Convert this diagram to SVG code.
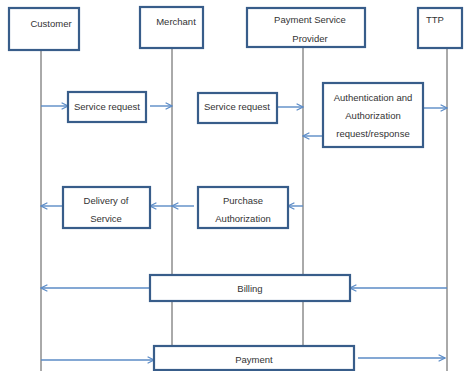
<svg xmlns="http://www.w3.org/2000/svg" width="465" height="371" viewBox="0 0 465 371">
<defs>
<marker id="ah" viewBox="0 0 10 10" refX="9" refY="5" markerWidth="8" markerHeight="8" markerUnits="userSpaceOnUse" orient="auto">
<path d="M1,1 L9,5 L1,9" fill="none" stroke="#5b8bc6" stroke-width="1.5"/>
</marker>
<style>
.box{fill:#fff;stroke:#385d8a;stroke-width:2.2}
.life{stroke:#555;stroke-width:1;fill:none}
.arr{stroke:#5b8bc6;stroke-width:1.4;fill:none;marker-end:url(#ah)}
text{font-family:"Liberation Sans",Arial,sans-serif;font-size:9.5px;fill:#333;text-anchor:middle}
</style>
</defs>
<g id="lifelines">
<line class="life" x1="41" y1="50" x2="41" y2="371"/>
<line class="life" x1="172" y1="48" x2="172" y2="346"/>
<line class="life" x1="303" y1="47" x2="303" y2="346"/>
<line class="life" x1="447" y1="48" x2="447" y2="371"/>
</g>
<g id="connectors">
<line class="arr" x1="41" y1="106" x2="68" y2="106"/>
<line class="arr" x1="150" y1="106" x2="172" y2="106"/>
<line class="arr" x1="277" y1="107" x2="303" y2="107"/>
<line class="arr" x1="423" y1="108" x2="447" y2="108"/>
<line class="arr" x1="323" y1="136" x2="303" y2="136"/>
<line class="arr" x1="303" y1="206" x2="288" y2="206"/>
<line class="arr" x1="194" y1="206" x2="172" y2="206"/>
<line class="arr" x1="172" y1="206" x2="150" y2="206"/>
<line class="arr" x1="63" y1="206" x2="41" y2="206"/>
<line class="arr" x1="150" y1="288" x2="41" y2="288"/>
<line class="arr" x1="447" y1="288" x2="350" y2="288"/>
<line class="arr" x1="41" y1="360" x2="154" y2="360"/>
<line class="arr" x1="358" y1="358" x2="445" y2="358"/>
</g>
<g id="customer"><rect class="box" x="9" y="8" width="70" height="42"/><text x="51" y="27">Customer</text></g>
<g id="merchant"><rect class="box" x="140" y="7" width="63" height="41"/><text x="176" y="25">Merchant</text></g>
<g id="psp"><rect class="box" x="247" y="8" width="118" height="39"/><text x="310" y="23">Payment Service</text><text x="310" y="42">Provider</text></g>
<g id="ttp"><rect class="box" x="418" y="8" width="44" height="40"/><text x="435" y="23">TTP</text></g>
<g id="service-request-1"><rect class="box" x="68" y="92" width="78" height="30"/><text x="107" y="110">Service request</text></g>
<g id="service-request-2"><rect class="box" x="198" y="93" width="79" height="30"/><text x="237" y="110">Service request</text></g>
<g id="auth"><rect class="box" x="323" y="83" width="100" height="64"/><text x="373" y="101">Authentication and</text><text x="373" y="119">Authorization</text><text x="373" y="137">request/response</text></g>
<g id="delivery"><rect class="box" x="63" y="187" width="87" height="41"/><text x="106" y="204">Delivery of</text><text x="106" y="222">Service</text></g>
<g id="purchase"><rect class="box" x="198" y="187" width="90" height="41"/><text x="243" y="204">Purchase</text><text x="243" y="222">Authorization</text></g>
<g id="billing"><rect class="box" x="150" y="275" width="200" height="26"/><text x="250" y="292">Billing</text></g>
<g id="payment"><rect class="box" x="154" y="346" width="200" height="24"/><text x="254" y="363">Payment</text></g>
</svg>
